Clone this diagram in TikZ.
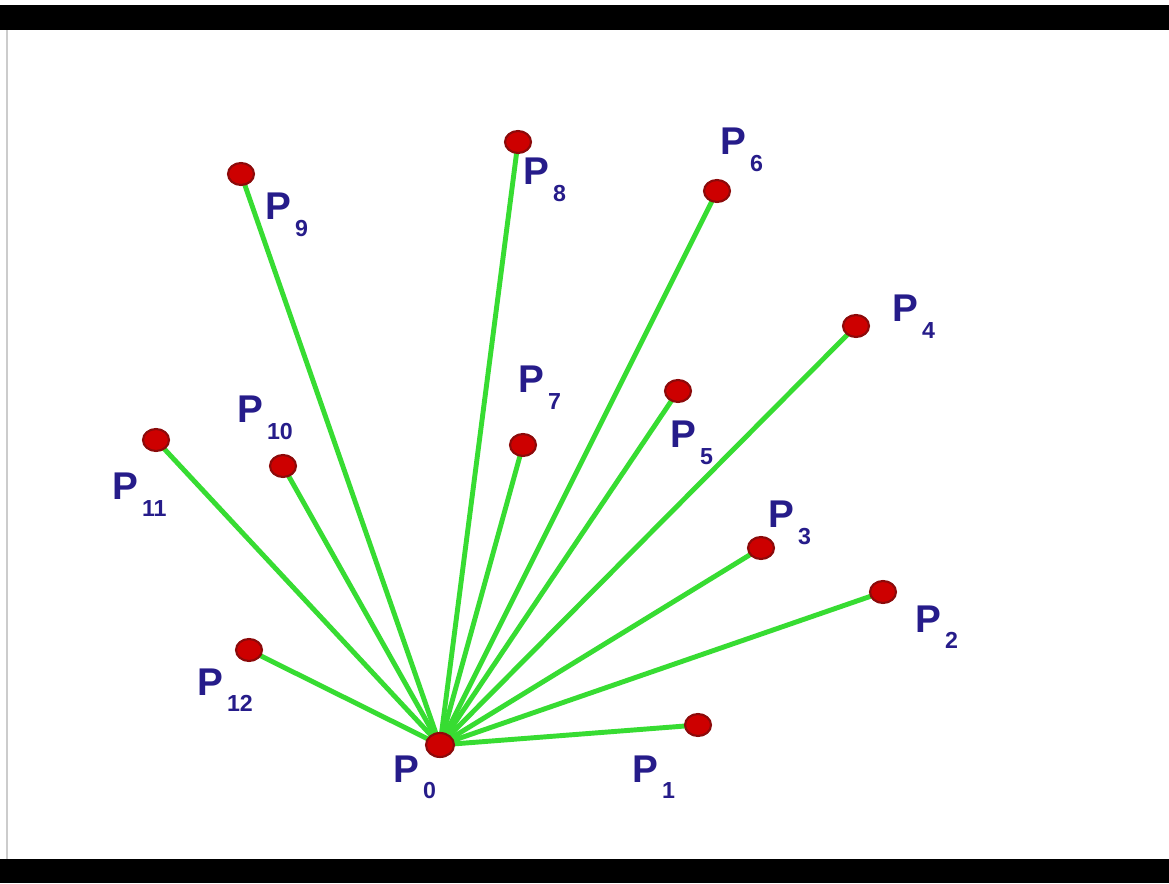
\documentclass[tikz,border=0pt]{standalone}
\usepackage{fontspec}
\setmainfont{Liberation Sans}
\usepackage{tikz}
\usetikzlibrary{shapes.geometric,backgrounds}
\usepackage{xcolor}

\definecolor{ptred}{RGB}{205,0,0}
\definecolor{ptedge}{RGB}{140,10,10}
\definecolor{rayg}{RGB}{55,220,50}
\definecolor{lblue}{RGB}{38,28,138}

% label P with a dropped index
\newcommand{\plbl}[1]{P\kern1pt\raisebox{-4.6pt}{\fontsize{6.6}{7}\selectfont #1}}

\begin{document}
\begin{tikzpicture}[
    dot/.style={draw=ptedge, fill=ptred, ellipse, line width=0.6pt,
        minimum width=0.26cm, minimum height=0.22cm, inner sep=0pt},
    lbl/.style={anchor=base west, inner sep=0pt, text=lblue,
        font=\fontsize{11}{13}\selectfont\bfseries},
    ray/.style={draw=rayg, line width=1.4pt},
]

% Points
\node[dot, minimum width=0.28cm, minimum height=0.24cm] (p0) at (4.40, 1.38) {};
\node[dot] (p1) at (6.98, 1.58) {};
\node[dot] (p2) at (8.83, 2.91) {};
\node[dot] (p3) at (7.61, 3.35) {};
\node[dot] (p4) at (8.56, 5.57) {};
\node[dot] (p5) at (6.78, 4.92) {};
\node[dot] (p6) at (7.17, 6.92) {};
\node[dot] (p7) at (5.23, 4.38) {};
\node[dot] (p8) at (5.18, 7.41) {};
\node[dot] (p9) at (2.41, 7.09) {};
\node[dot] (p10) at (2.83, 4.17) {};
\node[dot] (p11) at (1.56, 4.43) {};
\node[dot] (p12) at (2.49, 2.33) {};

% Labels
\node[lbl] (l0) at (3.93, 1.01) {\plbl{0}};
\node[lbl] (l1) at (6.32, 1.01) {\plbl{1}};
\node[lbl] (l2) at (9.15, 2.51) {\plbl{2}};
\node[lbl] (l3) at (7.68, 3.55) {\plbl{3}};
\node[lbl] (l4) at (8.92, 5.61) {\plbl{4}};
\node[lbl] (l5) at (6.70, 4.35) {\plbl{5}};
\node[lbl] (l6) at (7.20, 7.28) {\plbl{6}};
\node[lbl] (l7) at (5.18, 4.90) {\plbl{7}};
\node[lbl] (l8) at (5.23, 6.98) {\plbl{8}};
\node[lbl] (l9) at (2.65, 6.63) {\plbl{9}};
\node[lbl] (l10) at (2.37, 4.60) {\plbl{10}};
\node[lbl] (l11) at (1.12, 3.83) {\plbl{11}};
\node[lbl] (l12) at (1.97, 1.88) {\plbl{12}};

\begin{scope}[on background layer]
% Frame
\fill[white] (0, 0) rectangle (11.69, 8.83);
\fill[black] (0, 8.53) rectangle (11.69, 8.78);
\fill[black] (0, 0) rectangle (11.69, 0.24);
\draw[gray!40, line width=0.8pt] (0.07, 0.24) -- (0.07, 8.53);

% Rays from P0
\draw[ray] (p0.center) -- (p1.center);
\draw[ray] (p0.center) -- (p2.center);
\draw[ray] (p0.center) -- (p3.center);
\draw[ray] (p0.center) -- (p4.center);
\draw[ray] (p0.center) -- (p5.center);
\draw[ray] (p0.center) -- (p6.center);
\draw[ray] (p0.center) -- (p7.center);
\draw[ray] (p0.center) -- (p8.center);
\draw[ray] (p0.center) -- (p9.center);
\draw[ray] (p0.center) -- (p10.center);
\draw[ray] (p0.center) -- (p11.center);
\draw[ray] (p0.center) -- (p12.center);
\end{scope}

\end{tikzpicture}
\end{document}
